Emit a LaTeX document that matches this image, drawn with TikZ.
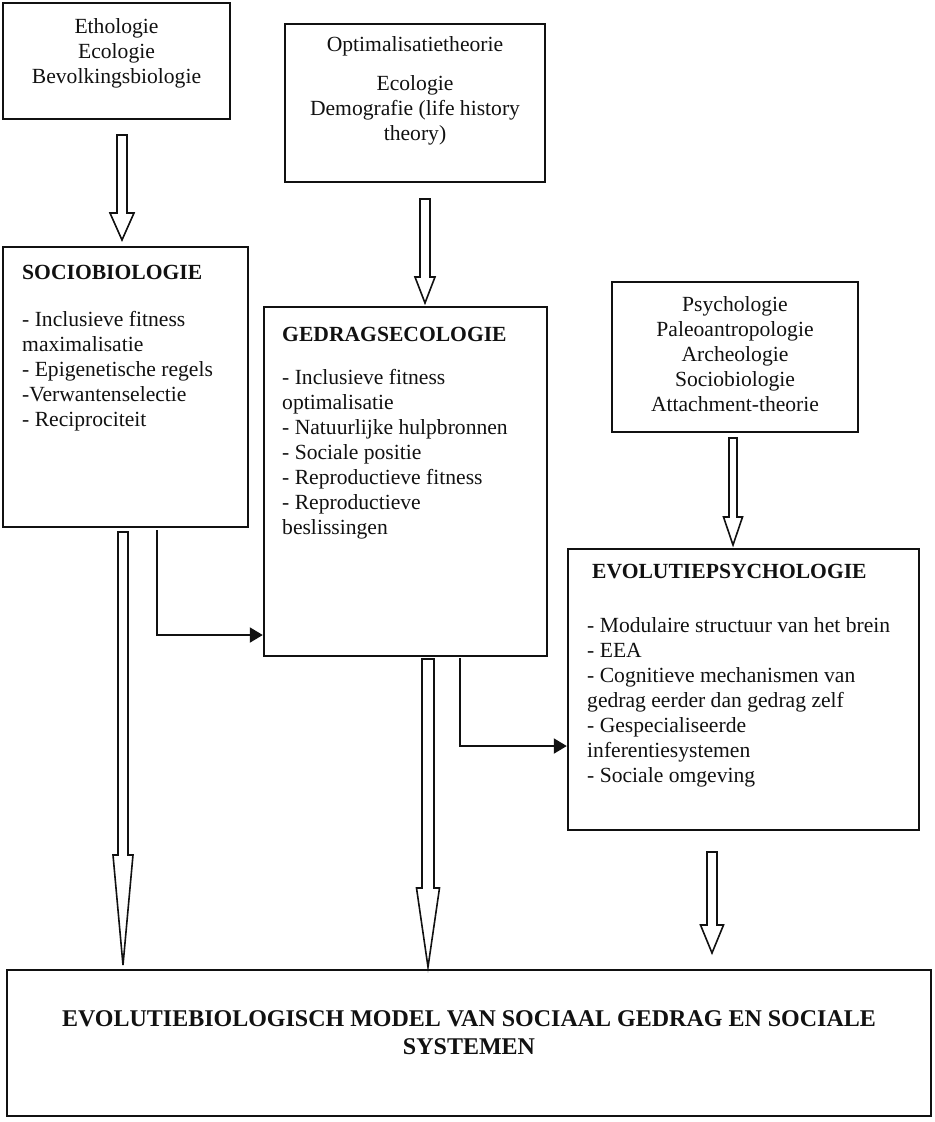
\documentclass[tikz,border=0pt]{standalone}
\usepackage{fontspec}
\setmainfont{Liberation Serif}
\usepackage{tikz}
\usetikzlibrary{arrows.meta,calc,positioning}
\definecolor{ink}{HTML}{111111}
\tikzset{
  box/.style        = {draw=ink, line width=1.2pt, inner sep=0pt},
  box text/.style   = {inner sep=0pt, text=ink,
                       font=\fontsize{10.8pt}{12.5pt}\selectfont},
  centred text/.style = {box text, align=center},
  list text/.style  = {box text, align=left},
  hollow/.style     = {draw=ink, line width=0.8pt, fill=white},
  link/.style       = {draw=ink, line width=1pt,
                       -{Triangle[length=6.5pt,width=7.5pt]}},
}
% block arrow pointing down: from, to, head length, half shaft, half head
\newcommand{\hollowarrow}[5]{%
  \draw[hollow] let \p1=(#1), \p2=(#2) in
    (\x1-#4,\y1) -- (\x1+#4,\y1) -- (\x1+#4,\y2+#3) -- (\x1+#5,\y2+#3)
    -- (\x2,\y2) -- (\x1-#5,\y2+#3) -- (\x1-#4,\y2+#3) -- cycle;}

\begin{document}
\begin{tikzpicture}[x=0.5pt, y=-0.5pt]
  \useasboundingbox (0,0) rectangle (934,1122);

  % source disciplines
  \node[box, minimum width=113.5pt, minimum height=58pt] (etho) at (116.5,61) {};
  \node[centred text, below=8pt of etho.north] (etho text)
    {Ethologie\\Ecologie\\Bevolkingsbiologie};

  \node[box, minimum width=130pt, minimum height=79pt] (optim) at (415,103) {};
  \node[centred text, below=6.5pt of optim.north] (optim text)
    {Optimalisatietheorie\\[7pt]Ecologie\\Demografie (life history\\theory)};

  \node[box, minimum width=123pt, minimum height=75pt] (psych) at (735,357) {};
  \node[centred text, below=7.5pt of psych.north] (psych text)
    {Psychologie\\Paleoantropologie\\Archeologie\\Sociobiologie\\Attachment-theorie};

  % the three approaches
  \node[box, minimum width=122.5pt, minimum height=140pt] (socio) at (125.5,387) {};
  \node[list text, below right=9.5pt and 10pt of socio.north west] (socio text)
    {\textbf{SOCIOBIOLOGIE}\\[11pt]- Inclusieve fitness\\maximalisatie\\%
     - Epigenetische regels\\-Verwantenselectie\\- Reciprociteit};

  \node[box, minimum width=141.5pt, minimum height=174.5pt] (gedrag) at (405.5,481.5) {};
  \node[list text, below right=10.5pt and 9.5pt of gedrag.north west] (gedrag text)
    {\textbf{GEDRAGSECOLOGIE}\\[9pt]- Inclusieve fitness\\optimalisatie\\%
     - Natuurlijke hulpbronnen\\- Sociale positie\\- Reproductieve fitness\\%
     - Reproductieve\\beslissingen};

  \node[box, minimum width=175.5pt, minimum height=140.5pt] (evo) at (743.5,689.5) {};
  \node[list text, below right=8pt and 10pt of evo.north west] (evo text)
    {\hspace*{2.5pt}\textbf{EVOLUTIEPSYCHOLOGIE}\\[14.5pt]%
     - Modulaire structuur van het brein\\- EEA\\- Cognitieve mechanismen van\\%
     gedrag eerder dan gedrag zelf\\- Gespecialiseerde\\inferentiesystemen\\%
     - Sociale omgeving};

  % synthesis
  \node[box, minimum width=462pt, minimum height=73pt] (model) at (469,1043) {};
  \node[centred text, font=\fontsize{12pt}{14pt}\selectfont\bfseries,
        below=20.5pt of model.north] (model text)
    {EVOLUTIEBIOLOGISCH MODEL VAN SOCIAAL GEDRAG EN SOCIALE\\SYSTEMEN};

  % block arrows
  \coordinate (etho out)    at (122,135);
  \coordinate (socio in)    at (122,240);
  \coordinate (optim out)   at (425,199);
  \coordinate (gedrag in)   at (425,303);
  \coordinate (psych out)   at (733,438);
  \coordinate (evo in)      at (733,545);
  \coordinate (socio out)   at (123,532);
  \coordinate (model in a)  at (123,965);
  \coordinate (gedrag out)  at (428,659);
  \coordinate (model in b)  at (428,967);
  \coordinate (evo out)     at (712,852);
  \coordinate (model in c)  at (712,953);

  \hollowarrow{etho out}{socio in}{13.5pt}{2.5pt}{6pt}
  \hollowarrow{optim out}{gedrag in}{13pt}{2.5pt}{5pt}
  \hollowarrow{psych out}{evo in}{14pt}{2pt}{4.75pt}
  \hollowarrow{socio out}{model in a}{55pt}{2.5pt}{5pt}
  \hollowarrow{gedrag out}{model in b}{39.5pt}{3pt}{5.75pt}
  \hollowarrow{evo out}{model in c}{14pt}{2.5pt}{5.75pt}

  % side links
  \coordinate (socio tap)   at (157,530);
  \coordinate (socio bend)  at (157,635);
  \coordinate (gedrag tap)  at (460,658);
  \coordinate (gedrag bend) at (460,746);
  \draw[link] (socio tap) -- (socio bend) -- (socio bend -| gedrag.west);
  \draw[link] (gedrag tap) -- (gedrag bend) -- (gedrag bend -| evo.west);
\end{tikzpicture}
\end{document}
